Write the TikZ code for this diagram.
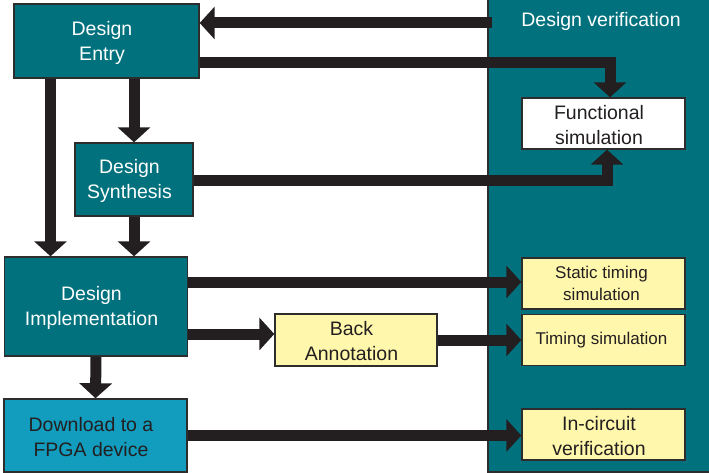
\documentclass[tikz,border=0pt]{standalone}
\usepackage{fontspec}
\setmainfont{Liberation Sans}
\usetikzlibrary{arrows.meta}

\definecolor{tealbox}{RGB}{0,113,125}
\definecolor{bluebox}{RGB}{18,156,190}
\definecolor{yellowbox}{RGB}{255,247,172}
\definecolor{ink}{RGB}{35,31,32}
\definecolor{edge}{RGB}{45,45,45}

\tikzset{
  bigfont/.style={font=\fontsize{19.5}{25}\selectfont},
  smallfont/.style={font=\fontsize{17}{22}\selectfont},
  box/.style={draw=edge, line width=1.4pt, inner sep=0pt},
  % caption of a box, set a little left of and below the box centre
  cap/.style 2 args={label={[align=center, xshift=-4.5pt, yshift=-1.5pt, bigfont, text=#1]center:{#2}}},
  smallcap/.style 2 args={label={[align=center, xshift=-2pt, smallfont, text=#1]center:{#2}}},
  stagebox/.style={box, fill=tealbox},
  loadbox/.style={box, fill=bluebox},
  simbox/.style={box, fill=yellowbox},
  flow/.style={draw=ink, line width=11pt, line join=miter,
               -{Triangle[width=32pt,length=15pt]}},
}

\begin{document}
\begin{tikzpicture}[x=1pt, y=-1pt]
  \useasboundingbox (0,0) rectangle (709,473);

  % verification panel on the right
  \filldraw[fill=tealbox, draw=edge, line width=1.4pt] (488,-3) rectangle (712,472);
  \node[text=white, bigfont] (vtitle) at (601,21) {Design verification};

  % design flow stages
  \node[stagebox, minimum width=185pt, minimum height=74pt,
        cap={white}{Design\\Entry}] (entry) at (106.5,41) {};
  \node[stagebox, minimum width=118pt, minimum height=73pt,
        cap={white}{Design\\Synthesis}] (synth) at (134,179.5) {};
  \node[stagebox, minimum width=183pt, minimum height=99pt,
        cap={white}{Design\\Implementation}] (impl) at (96,306.5) {};
  \node[loadbox, minimum width=183pt, minimum height=73pt,
        cap={ink}{Download to a\\FPGA device}] (dl) at (95.5,435.5) {};
  \node[simbox, minimum width=162pt, minimum height=52pt,
        cap={ink}{Back\\Annotation}] (back) at (356,340) {};

  % verification steps
  \node[box, fill=white, minimum width=163pt, minimum height=51pt,
        cap={ink}{Functional\\simulation}] (func) at (603.5,123.5) {};
  \node[simbox, minimum width=163pt, minimum height=51pt,
        smallcap={ink}{Static timing\\simulation}] (static) at (603.5,283.5) {};
  \node[simbox, minimum width=163pt, minimum height=51pt,
        smallcap={ink}{Timing simulation}] (timing) at (603.5,340) {};
  \node[simbox, minimum width=163pt, minimum height=51pt,
        cap={ink}{In-circuit\\verification}] (incirc) at (603.5,434.5) {};

  % feedback from verification to entry
  \coordinate (fb) at (492,23);
  \draw[flow] (fb) -- (entry.east |- fb);

  % functional simulation inputs
  \draw[flow] (entry.east |- 0,63) -| ([xshift=6.5pt]func.north);
  \draw[flow] (synth.east |- 0,181) -| ([xshift=3.5pt]func.south);

  % downward flow
  \draw[flow] (entry.south -| 50.5,0) -- (impl.north -| 50.5,0);
  \draw[flow] (entry.south -| synth.north) -- (synth.north);
  \draw[flow] (synth.south) -- (synth.south |- impl.north);
  \draw[flow] (impl.south) -- (dl.north);

  % timing paths
  \draw[flow] (impl.east |- 0,282) -- (static.west |- 0,282);
  \draw[flow] (impl.east |- 0,334) -- (back.west |- 0,334);
  \draw[flow] (back.east) -- (timing.west);
  \draw[flow] (dl.east) -- (incirc.west |- dl.east);
\end{tikzpicture}
\end{document}
